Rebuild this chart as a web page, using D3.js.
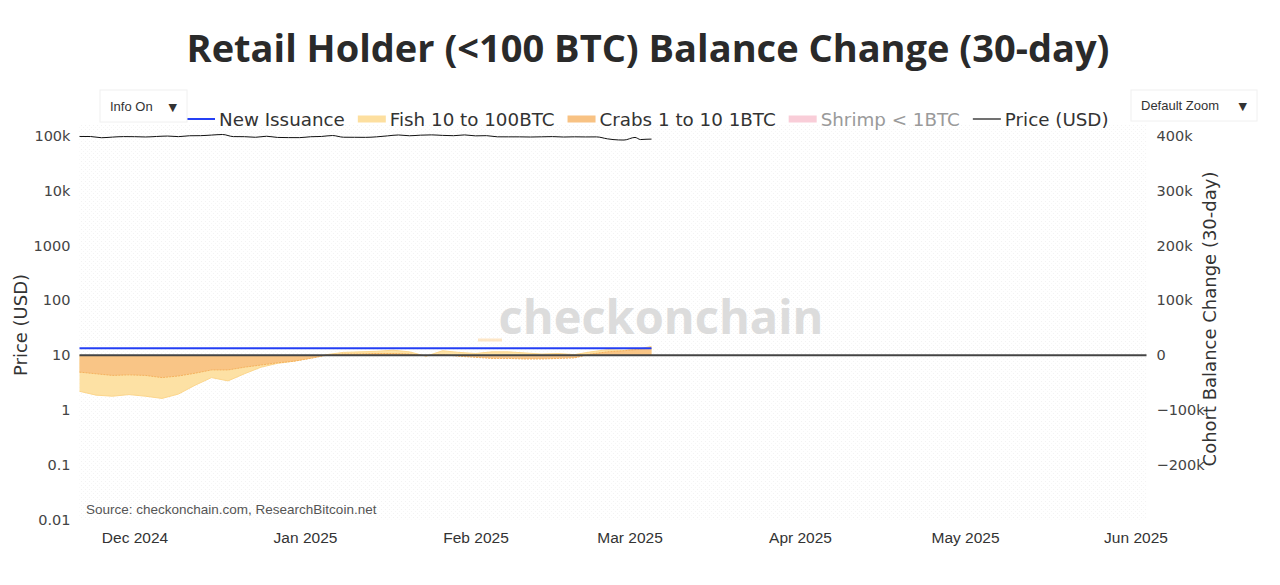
<!DOCTYPE html>
<html>
<head>
<meta charset="utf-8">
<script src="https://cdn.jsdelivr.net/npm/d3@7"></script>
<style>
  html, body { margin: 0; padding: 0; background: #ffffff; }
  svg { display: block; }
</style>
</head>
<body>
<svg id="chart" width="1280" height="585"></svg>
<script>
// ---------------- DATA ----------------
const priceDates = ["2024-11-21","2024-11-23","2024-11-25","2024-11-27","2024-11-29","2024-12-01","2024-12-03","2024-12-05","2024-12-07","2024-12-09","2024-12-11","2024-12-13","2024-12-15","2024-12-17","2024-12-19","2024-12-21","2024-12-23","2024-12-25","2024-12-27","2024-12-29","2024-12-31","2025-01-02","2025-01-04","2025-01-06","2025-01-08","2025-01-10","2025-01-12","2025-01-14","2025-01-16","2025-01-18","2025-01-20","2025-01-22","2025-01-24","2025-01-26","2025-01-28","2025-01-30","2025-02-01","2025-02-03","2025-02-05","2025-02-07","2025-02-09","2025-02-11","2025-02-13","2025-02-15","2025-02-17","2025-02-19","2025-02-21","2025-02-23","2025-02-25","2025-02-27","2025-02-28","2025-03-02","2025-03-03","2025-03-04","2025-03-05"];
const priceValues = [98000,97800,93000,95500,97500,97200,96000,98000,99800,97400,101000,101400,104000,106500,97500,97200,94800,99000,94200,93500,93400,96900,98100,102000,95000,94700,94500,96500,100500,104400,101000,103600,104800,102600,101300,104700,100600,101400,96600,96500,96500,95800,96600,97500,95800,96600,96100,96300,88700,84700,84400,94200,86100,87200,87800];

const cohortDates = ["2024-11-21","2024-11-24","2024-11-27","2024-11-30","2024-12-03","2024-12-06","2024-12-09","2024-12-12","2024-12-15","2024-12-18","2024-12-21","2024-12-24","2024-12-27","2024-12-30","2025-01-02","2025-01-05","2025-01-08","2025-01-11","2025-01-14","2025-01-17","2025-01-20","2025-01-23","2025-01-26","2025-01-29","2025-02-01","2025-02-04","2025-02-07","2025-02-10","2025-02-13","2025-02-16","2025-02-19","2025-02-22","2025-02-25","2025-02-28","2025-03-03","2025-03-05"];
const fishValues  = [-66000,-73000,-75000,-72000,-75000,-79000,-71000,-55000,-41000,-47000,-34000,-22000,-15000,-11000,-5000,1000,5000,6000,7000,9000,6000,-2000,8000,5000,3000,6000,6000,4000,2000,3000,1000,6000,10000,9000,12000,16000];
const crabsValues = [-31000,-34000,-37000,-36000,-37000,-41000,-38000,-33000,-27000,-27000,-22000,-18000,-14000,-11000,-6000,0,2000,2000,3000,3000,2000,-1000,1000,-2000,-4000,-6000,-6000,-7000,-7000,-6000,-5000,2000,6000,8000,11000,13000];
const issuanceValues = [12500,12500,12500,12500,12500,12500,12500,12500,12500,12500,12500,12500,12500,12500,12500,12500,12500,12500,12500,12500,12500,12500,12500,12500,12500,12500,12500,12500,12500,12500,12500,12500,12500,12500,12500,12500];

const priceTicks = [0.01,0.1,1,10,100,1000,10000,100000];
const priceTickLabels = ["0.01","0.1","1","10","100","1000","10k","100k"];
const cohortTicks = [-200000,-100000,0,100000,200000,300000,400000];
const cohortTickLabels = ["\u2212200k","\u2212100k","0","100k","200k","300k","400k"];
const monthTicks = ["2024-12-01","2025-01-01","2025-02-01","2025-03-01","2025-04-01","2025-05-01","2025-06-01"];

const legendItems = [
  {name:"New Issuance", kind:"line", color:"#2540f5", dim:false},
  {name:"Fish 10 to 100BTC", kind:"band", color:"#fddf9f", dim:false},
  {name:"Crabs 1 to 10 1BTC", kind:"band", color:"#f8c283", dim:false},
  {name:"Shrimp < 1BTC", kind:"band", color:"#f9cdd8", dim:true},
  {name:"Price (USD)", kind:"thin", color:"#111111", dim:false}
];

// ---------------- LAYOUT ----------------
const svg = d3.select("#chart");
const plot = {left: 79.5, right: 1146.5, top: 125, bottom: 519.5};
const parse = d3.timeParse("%Y-%m-%d");

const x = d3.scaleTime()
  .domain([parse("2024-11-21"), parse("2025-06-03")])
  .range([plot.left, plot.right]);
const yL = d3.scaleLog().domain([0.01, 100000]).range([519.5, 136]);
const yR = d3.scaleLinear().domain([-300000, 400000]).range([519.5, 136]);

// background texture
const defs = svg.append("defs");
const pat = defs.append("pattern").attr("id","dots").attr("width",4).attr("height",4).attr("patternUnits","userSpaceOnUse");
pat.append("rect").attr("width",4).attr("height",4).attr("fill","#ffffff");
pat.append("rect").attr("x",1).attr("y",1).attr("width",1).attr("height",1).attr("fill","#f3f3f3");
pat.append("rect").attr("x",3).attr("y",3).attr("width",1).attr("height",1).attr("fill","#f6f6f6");
svg.append("rect").attr("x",plot.left).attr("y",plot.top).attr("width",plot.right-plot.left).attr("height",plot.bottom-plot.top).attr("fill","url(#dots)");

// Title
svg.append("text").attr("x", 648).attr("y", 62).attr("text-anchor","middle")
  .attr("font-family","'Open Sans', sans-serif").attr("font-weight",700).attr("font-size",38)
  .attr("fill","#2a2a2a").text("Retail Holder (<100 BTC) Balance Change (30-day)");

// Watermark
const wm = svg.append("g");
wm.append("text").attr("x", 661).attr("y", 334).attr("text-anchor","middle")
  .attr("font-family","'Open Sans', sans-serif").attr("font-weight",700).attr("font-size",47)
  .attr("fill","#dcdcdc").text("checkonchain");
wm.append("rect").attr("x", 478).attr("y", 338.5).attr("width", 24).attr("height", 3).attr("fill","#fde6c6");

// Source
svg.append("text").attr("x", 86).attr("y", 514)
  .attr("font-family","'Liberation Sans Narrow','Arial Narrow','Liberation Sans',sans-serif")
  .attr("font-size",13.5).attr("fill","#555").text("Source: checkonchain.com, ResearchBitcoin.net");

// Cohort data
const cohort = cohortDates.map((d,i)=>({date:parse(d), fish:fishValues[i], crabs:crabsValues[i], iss:issuanceValues[i]}));
const prices = priceDates.map((d,i)=>({date:parse(d), v:priceValues[i]}));

const fishArea = d3.area().x(d=>x(d.date)).y0(yR(0)).y1(d=>yR(d.fish));
const crabsArea = d3.area().x(d=>x(d.date)).y0(yR(0)).y1(d=>yR(d.crabs));
svg.append("path").datum(cohort).attr("d", fishArea).attr("fill","#fddf9f").attr("fill-opacity",0.95);
svg.append("path").datum(cohort).attr("d", d3.line().x(d=>x(d.date)).y(d=>yR(d.fish)))
  .attr("fill","none").attr("stroke","#fcd68c").attr("stroke-width",1);
svg.append("path").datum(cohort).attr("d", crabsArea).attr("fill","#f8c283").attr("fill-opacity",0.9);
svg.append("path").datum(cohort).attr("d", d3.line().x(d=>x(d.date)).y(d=>yR(d.crabs)))
  .attr("fill","none").attr("stroke","#f5b25e").attr("stroke-width",1).attr("stroke-dasharray","2,1");

// zero line
svg.append("line").attr("x1",plot.left).attr("x2",plot.right).attr("y1",yR(0)).attr("y2",yR(0))
  .attr("stroke","#444").attr("stroke-width",2);

// issuance
svg.append("path").datum(cohort).attr("d", d3.line().x(d=>x(d.date)).y(d=>yR(d.iss)))
  .attr("fill","none").attr("stroke","#2540f5").attr("stroke-width",2);

// price
svg.append("path").datum(prices).attr("d", d3.line().curve(d3.curveMonotoneX).x(d=>x(d.date)).y(d=>yL(d.v)))
  .attr("fill","none").attr("stroke","#111").attr("stroke-width",1);

// Axes
const tickFont = "'DejaVu Sans', Verdana, sans-serif";
const leftAxis = svg.append("g").attr("transform",`translate(${plot.left},0)`)
  .call(d3.axisLeft(yL).tickValues(priceTicks).tickFormat((d,i)=>priceTickLabels[i]).tickSize(0).tickPadding(9));
const rightAxis = svg.append("g").attr("transform",`translate(${plot.right},0)`)
  .call(d3.axisRight(yR).tickValues(cohortTicks).tickFormat((d,i)=>cohortTickLabels[i]).tickSize(0).tickPadding(10));
const bottomAxis = svg.append("g").attr("transform",`translate(0,${plot.bottom})`)
  .call(d3.axisBottom(x).tickValues(monthTicks.map(parse)).tickFormat(d3.timeFormat("%b %Y")).tickSize(0).tickPadding(12));
[leftAxis,rightAxis,bottomAxis].forEach(g=>{ g.select(".domain").remove(); });
leftAxis.selectAll("text").attr("font-family",tickFont).attr("font-size",14.5).attr("fill","#444");
rightAxis.selectAll("text").attr("font-family",tickFont).attr("font-size",14.5).attr("fill","#444");
bottomAxis.selectAll("text").attr("font-family","'Liberation Sans Narrow','Arial Narrow','Liberation Sans',sans-serif").attr("font-size",15.5).attr("fill","#333");

// Axis titles
svg.append("text").attr("transform","translate(27,325) rotate(-90)").attr("text-anchor","middle")
  .attr("font-family",tickFont).attr("font-size",18).attr("fill","#333").text("Price (USD)");
svg.append("text").attr("transform","translate(1216,319) rotate(-90)").attr("text-anchor","middle")
  .attr("font-family",tickFont).attr("font-size",18).attr("fill","#333").text("Cohort Balance Change (30-day)");

// Legend
const lg = svg.append("g").attr("font-family",tickFont).attr("font-size",18.3);
let lx = 187;
legendItems.forEach(it=>{
  const g = lg.append("g").attr("transform",`translate(${lx},119)`);
  if (it.kind==="line") g.append("line").attr("x1",0).attr("x2",28).attr("stroke",it.color).attr("stroke-width",2);
  else if (it.kind==="thin") g.append("line").attr("x1",0).attr("x2",28).attr("stroke",it.color).attr("stroke-width",1.2);
  else g.append("rect").attr("x",0).attr("y",-3.5).attr("width",28).attr("height",7).attr("fill",it.color);
  const t = g.append("text").attr("x",32).attr("y",6.5).attr("fill", it.dim ? "#9a9a9a" : "#333").text(it.name);
  lx += 32 + t.node().getComputedTextLength() + 13;
});

// Buttons
function button(x0,y0,w,h,label){
  const g = svg.append("g");
  g.append("rect").attr("x",x0).attr("y",y0).attr("width",w).attr("height",h).attr("fill","#fff").attr("stroke","#f0f0f0");
  g.append("text").attr("x",x0+10).attr("y",y0+h/2+4.5).attr("font-family","'Liberation Sans Narrow','Arial Narrow','Liberation Sans',sans-serif").attr("font-size",13).attr("fill","#333").text(label);
  g.append("text").attr("x",x0+w-10).attr("y",y0+h/2+4.5).attr("text-anchor","end").attr("font-family",tickFont).attr("font-size",11).attr("fill","#333").text("\u25BC");
}
button(100,90,87,32,"Info On");
button(1131,90,126,31,"Default Zoom");
</script>
</body>
</html>
